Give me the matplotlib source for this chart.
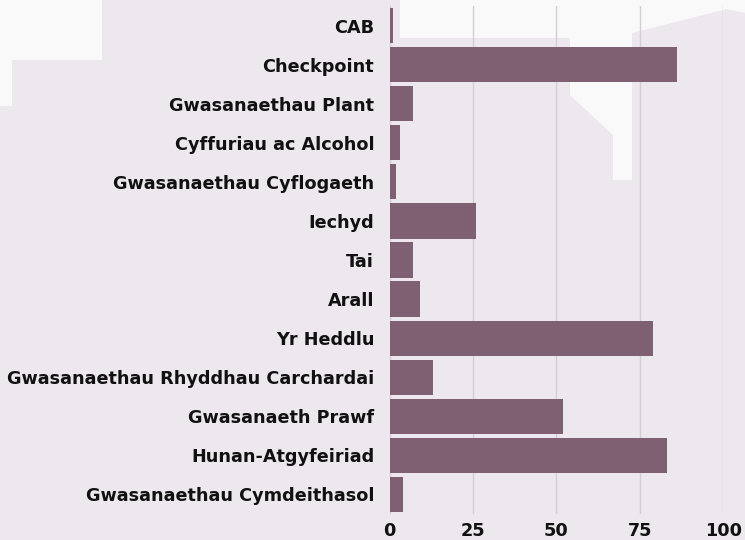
import matplotlib.pyplot as plt
from matplotlib.patches import Polygon

categories = ["CAB", "Checkpoint", "Gwasanaethau Plant", "Cyffuriau ac Alcohol",
              "Gwasanaethau Cyflogaeth", "Iechyd", "Tai", "Arall", "Yr Heddlu",
              "Gwasanaethau Rhyddhau Carchardai", "Gwasanaeth Prawf",
              "Hunan-Atgyfeiriad", "Gwasanaethau Cymdeithasol"]
values = [1, 86, 7, 3, 2, 26, 7, 9, 79, 13, 52, 83, 4]
xticks = [0, 25, 50, 75, 100]

bg = "#EDE8EE"
white = "#FAF9FA"
bar_color = "#7F6073"

W, H = 745, 540
fig = plt.figure(figsize=(7.45, 5.4), dpi=100, facecolor=bg)

# pale shapes of the background picture (pixel coords)
shapes = [
    [(0, 0), (102, 0), (102, 60), (12, 60), (12, 106), (0, 106)],
    [(400, 0), (632, 0), (632, 180), (613, 180), (613, 135), (570, 95), (570, 38), (400, 38)],
    [(632, 0), (745, 0), (745, 13), (727, 9), (640, 31), (632, 33)],
]
for pts in shapes:
    fig.add_artist(Polygon([(x / W, 1 - y / H) for x, y in pts], closed=True,
                           transform=fig.transFigure, facecolor=white,
                           edgecolor="none", zorder=0))

ax = fig.add_axes([389.5 / W, 1 - 514 / H, (723.3 - 389.5) / W, (514 - 6) / H])
ax.set_facecolor("none")
ax.set_zorder(2)

ypos = list(range(len(categories)))
ax.barh(ypos, values, height=0.9, color=bar_color, zorder=3)
ax.set_ylim(len(categories) - 0.5, -0.5)
ax.set_xlim(0, 100)

ax.set_xticks(xticks)
ax.set_yticks(ypos)
ax.set_yticklabels(categories)
ax.grid(axis="x", color="#D3CED4", linewidth=1, zorder=1)
ax.set_axisbelow(True)
for s in ax.spines.values():
    s.set_visible(False)
ax.tick_params(axis="y", length=0, pad=11)
ax.tick_params(axis="x", length=0, pad=6)
for lab in ax.get_yticklabels() + ax.get_xticklabels():
    lab.set_fontfamily("DejaVu Sans")
    lab.set_fontweight("bold")
    lab.set_fontsize(12.7)
    lab.set_color("#111111")

fig.savefig("out.png", dpi=100, facecolor=bg)
